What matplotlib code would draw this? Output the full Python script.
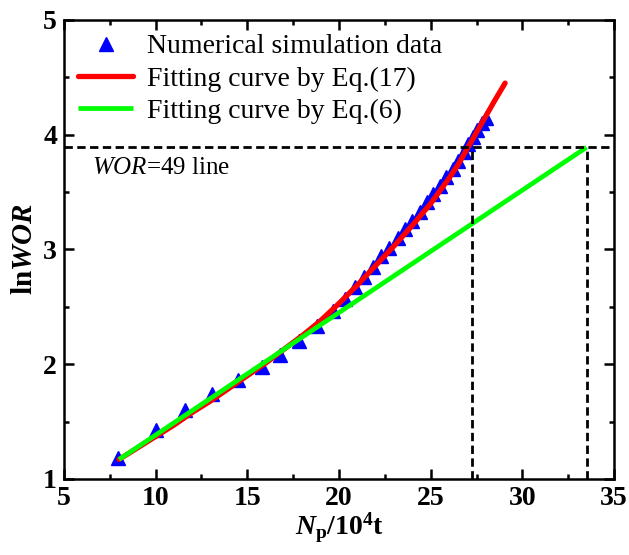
import matplotlib
matplotlib.use('Agg')
import matplotlib.pyplot as plt
import numpy as np
from matplotlib.ticker import MultipleLocator

plt.rcParams['font.family'] = ['Liberation Serif', 'DejaVu Serif']
plt.rcParams['mathtext.fontset'] = 'custom'
plt.rcParams['mathtext.rm'] = 'Liberation Serif:bold'
plt.rcParams['mathtext.bf'] = 'Liberation Serif:bold'
plt.rcParams['mathtext.it'] = 'Liberation Serif:bold:italic'
plt.rcParams['mathtext.sf'] = 'Liberation Serif:italic'

# Numerical simulation data
sim_x = [7.95, 10.0, 11.6, 13.1, 14.5, 15.8, 16.8, 17.8, 18.8, 19.7,
         20.3, 20.85, 21.35, 21.85, 22.3, 22.75, 23.2, 23.6, 24.0, 24.4, 24.8,
         25.15, 25.5, 25.85, 26.2, 26.5, 26.8, 27.05, 27.3, 27.55, 27.8, 28.0]
sim_y = [1.18, 1.43, 1.60, 1.74, 1.86, 1.98, 2.08, 2.20, 2.33, 2.46,
         2.57, 2.67, 2.76, 2.85, 2.94, 3.01, 3.10, 3.18, 3.25, 3.33, 3.41,
         3.48, 3.55, 3.63, 3.70, 3.77, 3.85, 3.92, 3.98, 4.04, 4.10, 4.15]

# Fitting curve by Eq.(17)
fit17_x = [8.0, 9.0, 10.0, 11.0, 12.0, 13.0, 14.0, 15.0, 16.0, 17.0, 18.0, 19.0, 20.0,
           21.0, 22.0, 23.0, 24.0, 25.0, 26.0, 26.5, 27.0, 27.5, 28.0, 28.5, 29.06]
fit17_y = [1.17, 1.27, 1.37, 1.47, 1.58, 1.68, 1.79, 1.90, 2.01, 2.13, 2.25, 2.38, 2.53,
           2.69, 2.86, 3.03, 3.21, 3.40, 3.62, 3.74, 3.88, 4.02, 4.16, 4.30, 4.45]

# Fitting curve by Eq.(6)
fit6_x = [8.0, 33.5]
fit6_y = [1.17, 3.89]

wor_limit = 49
np_cross17 = 27.26
np_cross6 = 33.5

fig = plt.figure(figsize=(6.29, 5.55), dpi=100)
ax = fig.add_axes([0.1017, 0.137, 0.8745, 0.827])

ax.plot(sim_x, sim_y, linestyle='none', marker='^', color='#0000FF', markersize=10,
        label='Numerical simulation data', zorder=2)
ax.plot(fit17_x, fit17_y, color='#FF0000', lw=3.8, solid_capstyle='round',
        label='Fitting curve by Eq.(17)', zorder=3)
ax.plot(fit6_x, fit6_y, color='#00FF00', lw=3.4, solid_capstyle='butt',
        label='Fitting curve by Eq.(6)', zorder=4)

lnw = np.log(wor_limit)
dash = (0, (3.0, 1.6))
ax.axhline(lnw, color='black', lw=2.0, linestyle=dash, zorder=5)
ax.plot([np_cross17, np_cross17], [1, lnw], color='black', lw=2.0, linestyle=dash, zorder=5)
ax.plot([np_cross6, np_cross6], [1, lnw], color='black', lw=2.0, linestyle=dash, zorder=5)

ax.text(6.55, 3.71, r'$\mathsf{WOR}$=49 line', fontsize=18, va='center', ha='left')

ax.set_xlim(5, 35)
ax.set_ylim(1, 5)
ax.xaxis.set_major_locator(MultipleLocator(5))
ax.xaxis.set_minor_locator(MultipleLocator(2.5))
ax.yaxis.set_major_locator(MultipleLocator(1))
ax.yaxis.set_minor_locator(MultipleLocator(0.5))
ax.tick_params(which='both', direction='in', top=True, right=True, width=1.8)
ax.tick_params(which='major', length=7, labelsize=20, pad=5)
ax.tick_params(which='minor', length=3.5)
for lab in ax.get_xticklabels() + ax.get_yticklabels():
    lab.set_fontweight('bold')
for s in ax.spines.values():
    s.set_linewidth(1.8)

ax.set_xlabel(r'$N_{\mathbf{p}}$/10$^{\mathbf{4}}$t', fontsize=20, fontweight='bold', labelpad=0)
ax.set_ylabel(r'ln$WOR$', fontsize=21, fontweight='bold', labelpad=4)

leg = ax.legend(loc='upper left', frameon=False, fontsize=20, handlelength=2.0,
                handletextpad=0.5, borderaxespad=0.3, labelspacing=0.25,
                borderpad=0.2, numpoints=1)

fig.savefig('out.png', dpi=100)
